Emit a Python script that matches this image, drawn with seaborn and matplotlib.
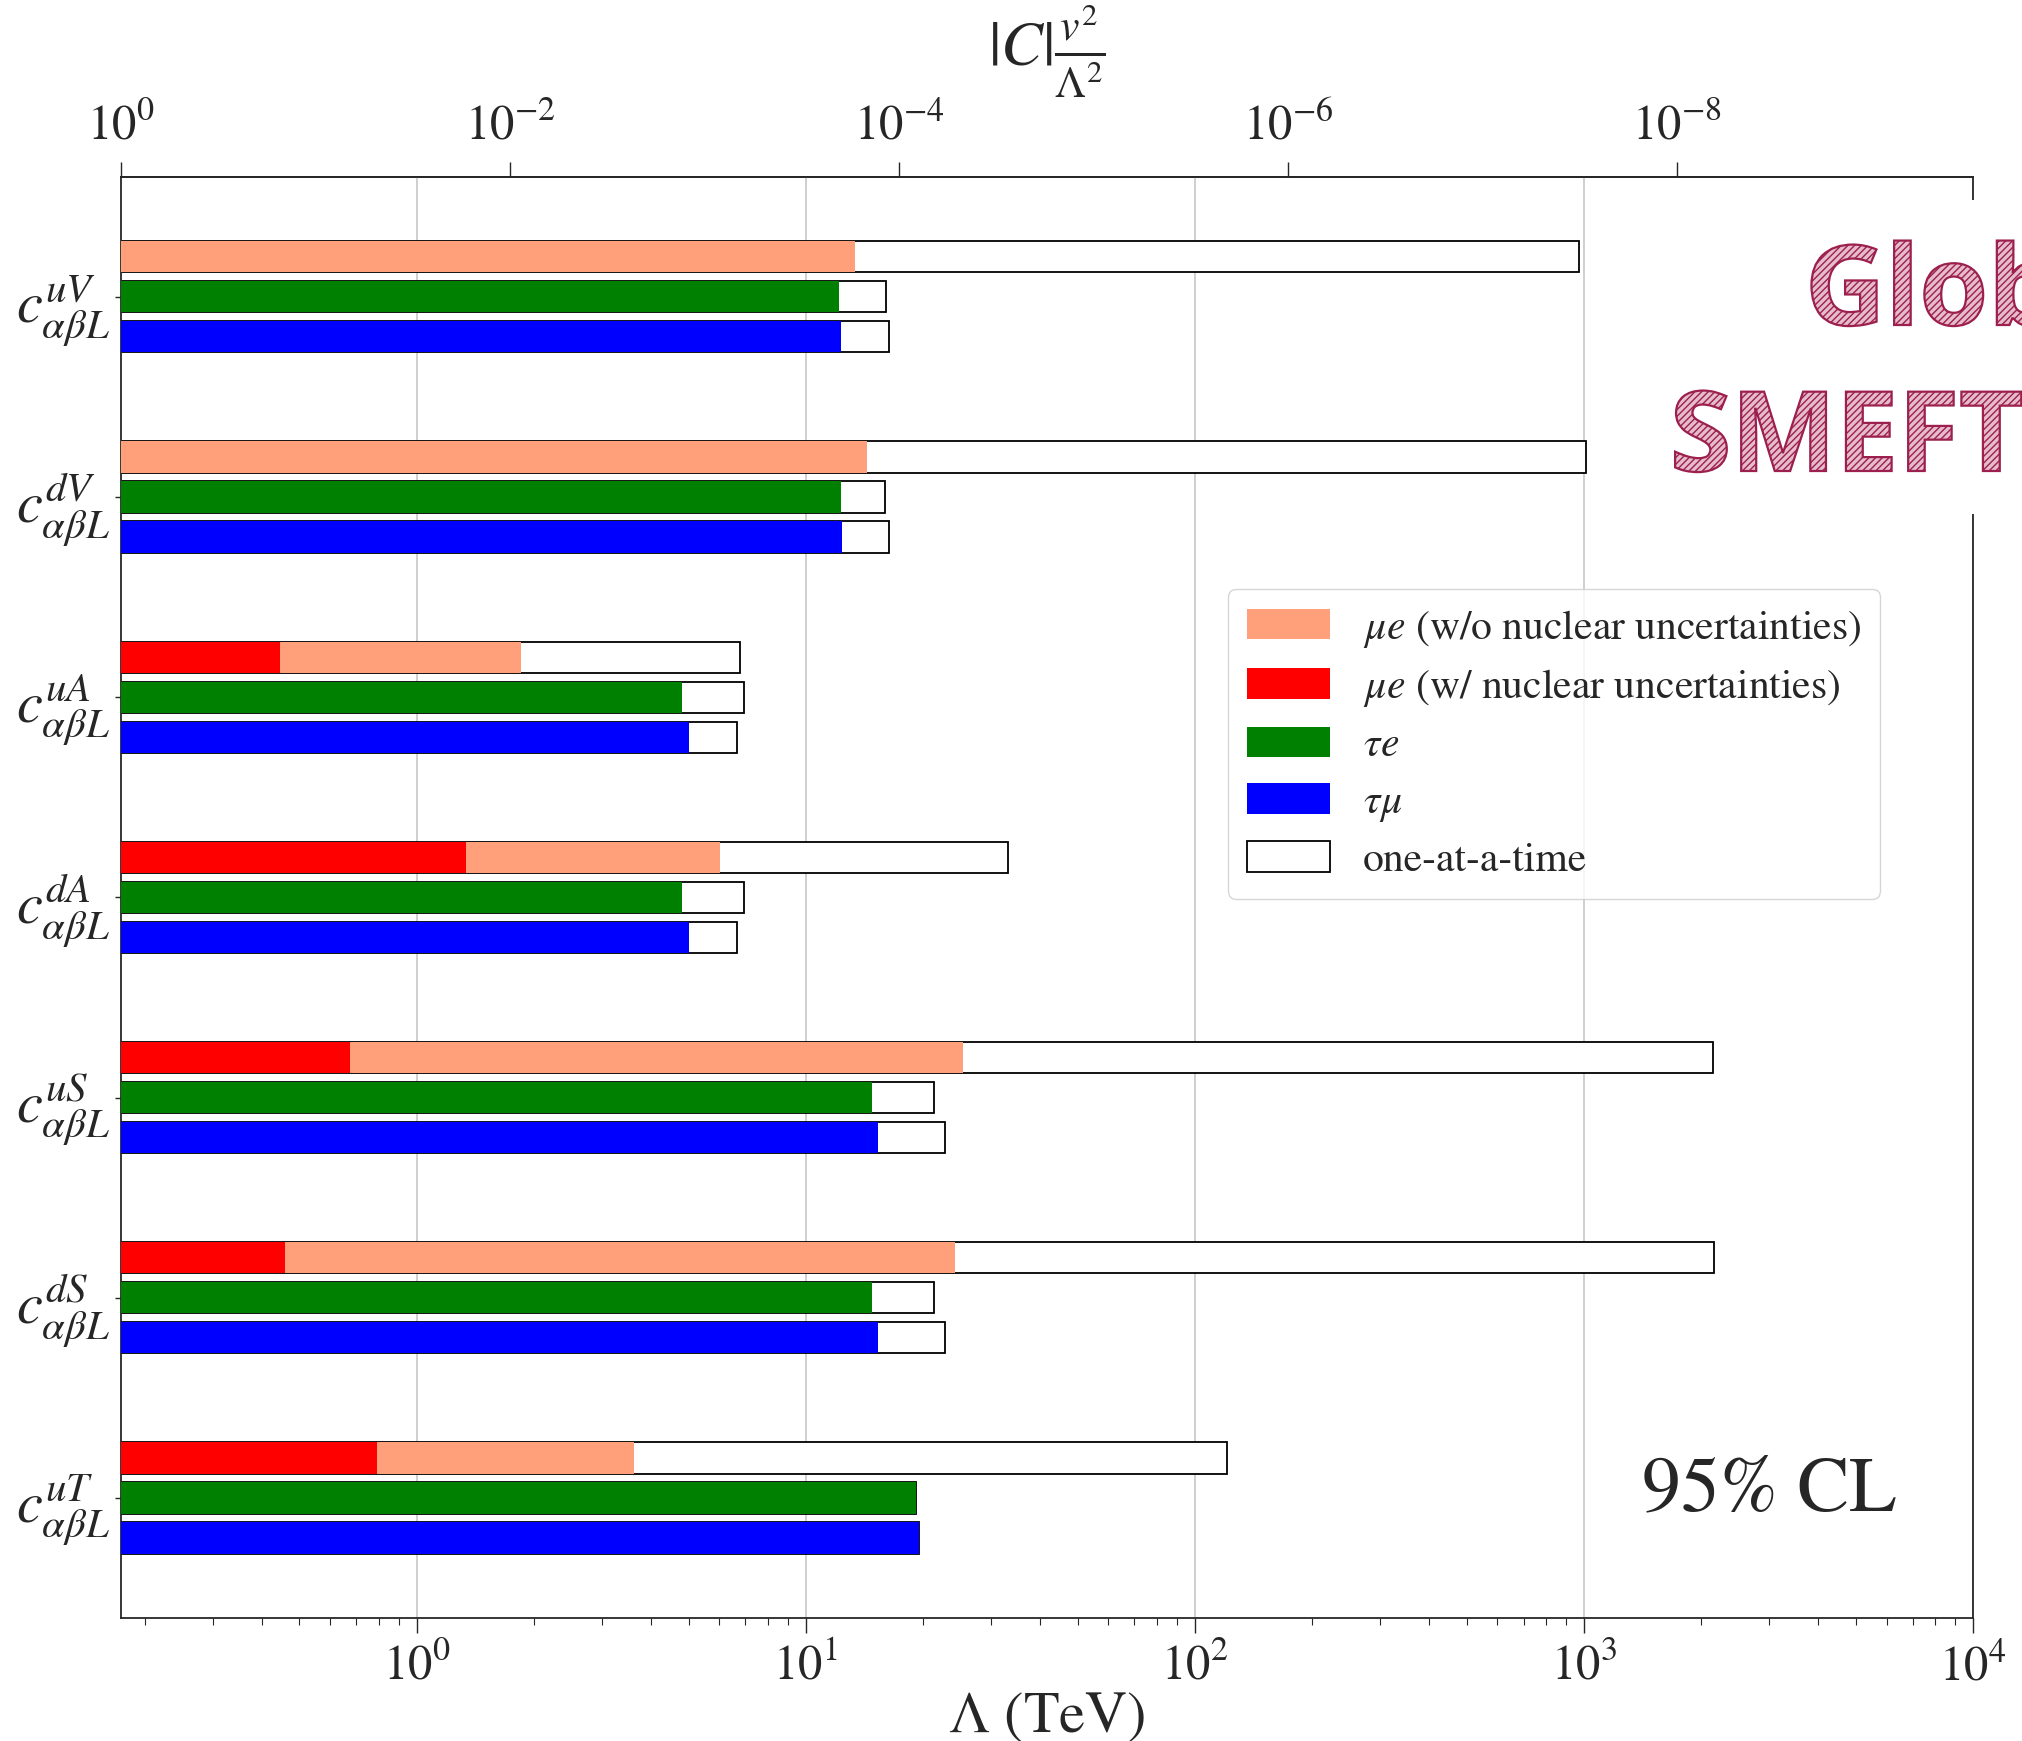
import numpy as np
import pandas as pd
import matplotlib
matplotlib.use("Agg")
import matplotlib.pyplot as plt
import matplotlib.patheffects as pe
from matplotlib.patches import Patch, Rectangle
from matplotlib.ticker import LogLocator, NullLocator, LogFormatterSciNotation
import seaborn as sns

# ---- data: 95% CL lower bounds on the new-physics scale (TeV) ----
coefficients = [r"$c^{uV}_{\alpha\beta L}$", r"$c^{dV}_{\alpha\beta L}$",
                r"$c^{uA}_{\alpha\beta L}$", r"$c^{dA}_{\alpha\beta L}$",
                r"$c^{uS}_{\alpha\beta L}$", r"$c^{dS}_{\alpha\beta L}$",
                r"$c^{uT}_{\alpha\beta L}$"]
channels = ["mue", "taue", "taumu"]

# global fit
mue_global_wo_nuc = [13.4, 14.4, 1.85, 6.04, 25.4, 24.2, 3.63]
mue_global_w_nuc = [np.nan, np.nan, 0.445, 1.34, 0.673, 0.459, 0.789]
taue_global = [12.2, 12.3, 4.81, 4.81, 14.8, 14.8, 19.2]
taumu_global = [12.3, 12.4, 5.0, 5.0, 15.3, 15.3, 19.6]

# one-at-a-time
mue_single = [970, 1015, 6.78, 33.1, 2143, 2158, 121]
taue_single = [16.1, 16.0, 6.93, 6.93, 21.4, 21.4, 19.2]
taumu_single = [16.4, 16.4, 6.67, 6.67, 22.8, 22.8, 19.6]

x_ticks_top = [1e0, 1e-2, 1e-4, 1e-6, 1e-8]
v_ew = 0.174  # TeV


def long_form(series):
    rows = []
    for ch, vals in series.items():
        for c, val in zip(coefficients, vals):
            if not np.isnan(val):
                rows.append({"coef": c, "channel": ch, "value": val})
    return pd.DataFrame(rows)


df_single = long_form({"mue": mue_single, "taue": taue_single, "taumu": taumu_single})
df_global = long_form({"mue": mue_global_wo_nuc, "taue": taue_global, "taumu": taumu_global})
df_nuc = long_form({"mue": mue_global_w_nuc})

# ---- style ----
sns.set_style("ticks")
plt.rcParams["font.family"] = ["STIXGeneral", "DejaVu Serif"]
plt.rcParams["mathtext.fontset"] = "stix"
plt.rcParams["axes.linewidth"] = 1.3

c_salmon = "#FFA07A"
c_red = "#FF0000"
c_green = "#008000"
c_blue = "#0000FF"

fig = plt.figure(figsize=(20.22, 17.41), dpi=100)
ax = fig.add_axes([0.0599, 0.0706, 0.9158, 0.8279])
ax.set_xscale("log")

common = dict(x="value", y="coef", hue="channel", hue_order=channels,
              order=coefficients, orient="h", dodge=True, width=0.6, gap=0.22,
              errorbar=None, legend=False, saturation=1, ax=ax)

sns.barplot(data=df_single, palette={"mue": "white", "taue": "white", "taumu": "white"},
            edgecolor="black", linewidth=1.3, zorder=2, **common)
sns.barplot(data=df_global, palette={"mue": c_salmon, "taue": c_green, "taumu": c_blue},
            edgecolor="none", linewidth=0, zorder=3, **common)
sns.barplot(data=df_nuc, palette={"mue": c_red, "taue": c_red, "taumu": c_red},
            edgecolor="none", linewidth=0, zorder=4, **common)

ax.set_xlim(v_ew, 1e4)
ax.set_ylim(6.6, -0.6)
ax.set_axisbelow(True)
ax.grid(axis="x", which="major", color="#cccccc", lw=1.3)
ax.grid(axis="y", visible=False)

ax.xaxis.set_major_locator(LogLocator(base=10, numticks=20))
ax.xaxis.set_minor_locator(LogLocator(base=10, subs=np.arange(2, 10), numticks=50))
ax.tick_params(axis="x", which="major", length=11, width=1.0, labelsize=35, pad=8)
ax.tick_params(axis="x", which="minor", length=5, width=0.8)
ax.tick_params(axis="y", which="major", length=4, width=1.0, labelsize=42, pad=4)

ax.set_xlabel(r"$\Lambda$ (TeV)", fontsize=42, labelpad=0)
ax.set_ylabel("")

# top axis: |C| v^2 / Lambda^2
def to_coeff(lam):
    lam = np.asarray(lam, dtype=float)
    with np.errstate(divide="ignore", invalid="ignore"):
        return (v_ew / lam) ** 2


def to_scale(c):
    c = np.asarray(c, dtype=float)
    with np.errstate(divide="ignore", invalid="ignore"):
        return v_ew / np.sqrt(c)


secax = ax.secondary_xaxis("top", functions=(to_coeff, to_scale))
secax.set_xticks(x_ticks_top)
secax.xaxis.set_major_formatter(LogFormatterSciNotation())
secax.xaxis.set_minor_locator(NullLocator())
secax.tick_params(axis="x", which="major", length=11, width=1.0, labelsize=35, pad=8)
fig.text(0.5178, 0.9705, r"$|C|\frac{v^2}{\Lambda^2}$", fontsize=45,
         ha="center", va="center")

# legend
handles = [Patch(facecolor=c_salmon, edgecolor="none"),
           Patch(facecolor=c_red, edgecolor="none"),
           Patch(facecolor=c_green, edgecolor="none"),
           Patch(facecolor=c_blue, edgecolor="none"),
           Patch(facecolor="white", edgecolor="black", linewidth=1.3)]
labels = [r"$\mu e$ (w/o nuclear uncertainties)",
          r"$\mu e$ (w/ nuclear uncertainties)",
          r"$\tau e$", r"$\tau\mu$", "one-at-a-time"]
ax.legend(handles, labels, loc="upper right", bbox_to_anchor=(0.950, 0.714),
          borderaxespad=0, fontsize=30, framealpha=0.8, borderpad=0.45,
          labelspacing=0.42, handlelength=2.0, handleheight=0.75, handletextpad=0.8)

ax.text(0.89, 0.087, "95% CL", transform=ax.transAxes, fontsize=56,
        ha="center", va="center")

# GlobalSMEFT mark in the upper-right corner
fig.patches.append(Rectangle((0.835, 0.705), 0.165, 0.18, transform=fig.transFigure,
                             facecolor="white", edgecolor="none", zorder=5))
logo_fx = [pe.PathPatchEffect(facecolor="#e6bccb", edgecolor="#9c1f4e",
                              hatch="/////", linewidth=1.6)]
for txt, xf, yf in [("Global", 1805 / 2022, 1 - 325 / 1741),
                    ("SMEFT", 1670 / 2022, 1 - 471 / 1741)]:
    fig.text(xf, yf, txt, fontsize=80, fontfamily="Open Sans", fontweight="bold",
             color="#9c1f4e", ha="left", va="baseline", zorder=6,
             path_effects=logo_fx)

fig.savefig("out.png", dpi=100)
